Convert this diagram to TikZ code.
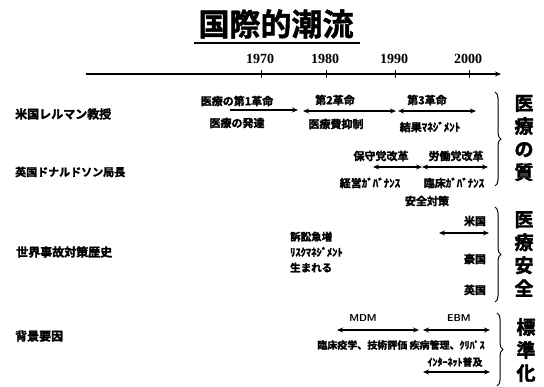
\documentclass[tikz,border=0pt]{standalone}
\usepackage{fontspec}
\setmainfont{Liberation Serif}
\newfontfamily\jp[FakeBold=2]{Noto Sans CJK JP Bold}
\newfontfamily\jpt[FakeBold=1.5]{Noto Sans CJK JP Bold}
\usetikzlibrary{arrows.meta,decorations.pathreplacing}
\tikzset{
  lbl/.style={font=\jp\fontsize{11}{12}\selectfont, inner sep=0pt},
  side/.style={font=\jp\fontsize{12}{13}\selectfont, inner sep=0pt, anchor=west},
  yr/.style={font=\bfseries\fontsize{14}{15}\selectfont, inner sep=0pt},
  big/.style={font=\jp\fontsize{19}{23}\selectfont, inner sep=0pt, align=center},
  dbl/.style={{Stealth[length=6pt,width=5pt]}-{Stealth[length=6pt,width=5pt]}, line width=1.2pt},
  rgt/.style={-{Stealth[length=6pt,width=5pt]}, line width=1.2pt},
  brc/.style={decorate, decoration={brace, amplitude=6pt}, line width=1pt},
}
\begin{document}
\begin{tikzpicture}[x=1pt,y=-1pt]
\useasboundingbox (0,0) rectangle (544,387);
% title
\node[font=\jpt\fontsize{31}{33}\selectfont, inner sep=0pt] (title) at (276,24) {国際的潮流};
\draw[line width=2.2pt] (194,43) -- (360,43);
% axis
\coordinate (ax0) at (86,74);
\coordinate (ax1) at (501,74);
\draw[rgt, line width=1.5pt] (ax0) -- (ax1);
\foreach \x/\y in {261/1970,326/1980,395/1990,469/2000}{
  \draw[line width=0.9pt] (\x,70) -- (\x,78);
  \node[yr] at (\x-1,59) {\y};
}
% left labels
\node[side] (l1) at (15,114) {米国レルマン教授};
\node[side, font=\jp\fontsize{11}{12}\selectfont] (l2) at (15,172) {英国ドナルドソン局長};
\node[side] (l3) at (16,252) {世界事故対策歴史};
\node[side] (l4) at (15,336) {背景要因};
% row 1
\node[lbl] (r1a) at (237,101) {医療の第1革命};
\node[lbl] (r1b) at (237,123) {医療の発達};
\coordinate (a1s) at (230,110);
\coordinate (a1e) at (298,110);
\draw[rgt] (a1s) -- (a1e);
\node[lbl] (r2a) at (335,100) {第2革命};
\node[lbl] (r2b) at (336,124) {医療費抑制};
\coordinate (a2s) at (303,111);
\coordinate (a2e) at (396,111);
\draw[dbl] (a2s) -- (a2e);
\node[lbl] (r3a) at (427,100) {第3革命};
\node[lbl] (r3b) at (430,127) {結果ﾏﾈｼﾞﾒﾝﾄ};
\coordinate (a3s) at (398,111);
\coordinate (a3e) at (476,111);
\draw[dbl] (a3s) -- (a3e);
% row 2
\node[lbl] (r4a) at (381,156) {保守党改革};
\node[lbl] (r4b) at (456,156) {労働党改革};
\coordinate (a4s) at (373,167);
\coordinate (a4e) at (422,167);
\coordinate (a5e) at (488,167);
\draw[dbl] (a4s) -- (a4e);
\draw[dbl] (a4e) -- (a5e);
\node[lbl] (r4c) at (370,183) {経営ｶﾞﾊﾞﾅﾝｽ};
\node[lbl] (r4d) at (454,183) {臨床ｶﾞﾊﾞﾅﾝｽ};
\node[lbl] (r4e) at (427,201) {安全対策};
% brace 1
\coordinate (b1t) at (495,92);
\coordinate (b1b) at (495,186);
\draw[brc] (b1t) -- (b1b);
\node[big] (q1) at (524,138) {医\\療\\の\\質};
% safety
\node[lbl, anchor=west, align=left, font=\jp\fontsize{10.5}{15.5}\selectfont] (s1) at (290,252) {訴訟急増\\ﾘｽｸﾏﾈｼﾞﾒﾝﾄ\\生まれる};
\node[lbl] (us) at (475,221) {米国};
\coordinate (a6s) at (439,233);
\coordinate (a6e) at (489,233);
\draw[dbl] (a6s) -- (a6e);
\node[lbl] (au) at (475,259) {豪国};
\node[lbl] (uk) at (475,290) {英国};
\coordinate (b2t) at (495,207);
\coordinate (b2b) at (495,302);
\draw[brc] (b2t) -- (b2b);
\node[big] (q2) at (524,254) {医\\療\\安\\全};
% standardization
\node[font=\sffamily\bfseries\fontsize{10}{11}\selectfont, inner sep=0pt] (mdm) at (363,318) {MDM};
\node[font=\sffamily\bfseries\fontsize{10}{11}\selectfont, inner sep=0pt] (ebm) at (459,318) {EBM};
\coordinate (a7s) at (337,330);
\coordinate (a7e) at (419,330);
\coordinate (a8s) at (423,330);
\coordinate (a8e) at (490,330);
\draw[dbl] (a7s) -- (a7e);
\draw[dbl] (a8s) -- (a8e);
\node[lbl, font=\jp\fontsize{10}{11}\selectfont] (bg1) at (401,345) {臨床疫学、技術評価 疾病管理、ｸﾘﾊﾟｽ};
\node[lbl, font=\jp\fontsize{10}{11}\selectfont] (net) at (455,362) {ｲﾝﾀｰﾈｯﾄ普及};
\coordinate (a9s) at (423,372);
\coordinate (a9e) at (490,372);
\draw[dbl] (a9s) -- (a9e);
\coordinate (b3t) at (497,313);
\coordinate (b3b) at (497,386);
\draw[brc] (b3t) -- (b3b);
\node[big] (q3) at (526,350) {標\\準\\化};
\end{tikzpicture}
\end{document}
